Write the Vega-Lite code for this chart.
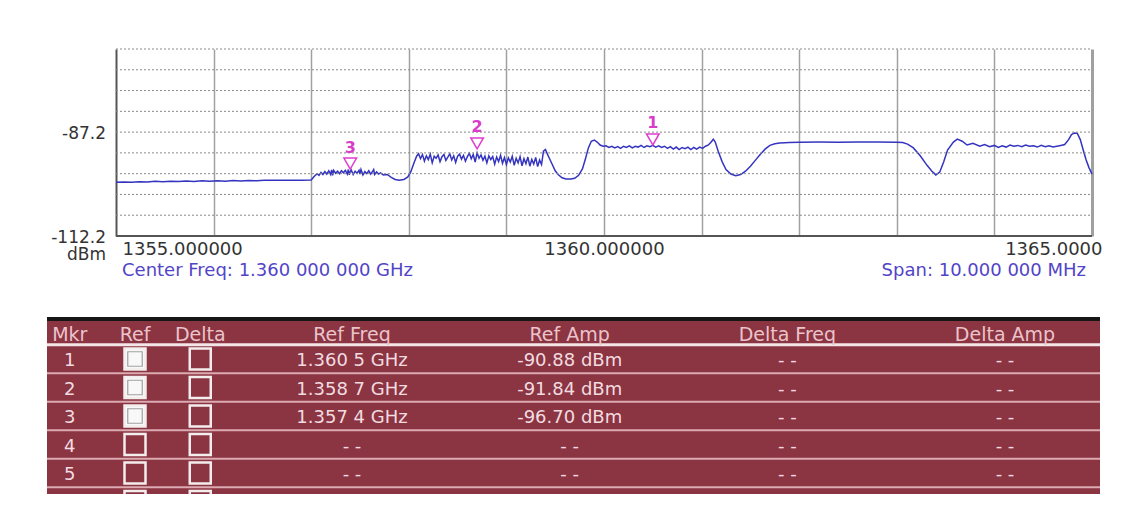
{
  "$schema": "https://vega.github.io/schema/vega-lite/v6.json",
  "background": "#ffffff",
  "padding": {"left": 45, "top": 48, "right": 0, "bottom": 0},
  "config": {"view": {"stroke": null}, "font": "DejaVu Sans"},
  "bounds": "flush",
  "spacing": 81,
  "datasets": {
    "levels": [{"level": -107.2}, {"level": -102.2}, {"level": -97.2}, {"level": -92.2}, {"level": -87.2}, {"level": -82.2}, {"level": -77.2}, {"level": -72.2}, {"level": -67.2}],
    "ylabels": [{"level": -87.2, "label": "-87.2"}, {"level": -112.2, "label": "-112.2\ndBm"}],
    "markers": [
      {"mkr": 1, "freq": 1360.5, "amp": -90.88, "refFreq": "1.360 5 GHz", "refAmp": "-90.88 dBm", "deltaFreq": "- -", "deltaAmp": "- -", "refOn": true},
      {"mkr": 2, "freq": 1358.7, "amp": -91.84, "refFreq": "1.358 7 GHz", "refAmp": "-91.84 dBm", "deltaFreq": "- -", "deltaAmp": "- -", "refOn": true},
      {"mkr": 3, "freq": 1357.4, "amp": -96.70, "refFreq": "1.357 4 GHz", "refAmp": "-96.70 dBm", "deltaFreq": "- -", "deltaAmp": "- -", "refOn": true},
      {"mkr": 4, "freq": null, "amp": null, "refFreq": "- -", "refAmp": "- -", "deltaFreq": "- -", "deltaAmp": "- -", "refOn": false},
      {"mkr": 5, "freq": null, "amp": null, "refFreq": "- -", "refAmp": "- -", "deltaFreq": "- -", "deltaAmp": "- -", "refOn": false},
      {"mkr": 6, "freq": null, "amp": null, "refFreq": "- -", "refAmp": "- -", "deltaFreq": "- -", "deltaAmp": "- -", "refOn": false}
    ],
    "cols": [
      {"key": "mkr", "title": "Mkr", "grp": "A", "idx": 0},
      {"key": "ref", "title": "Ref", "grp": "A", "idx": 1},
      {"key": "delta", "title": "Delta", "grp": "A", "idx": 2},
      {"key": "refFreq", "title": "Ref Freq", "grp": "B"},
      {"key": "refAmp", "title": "Ref Amp", "grp": "B"},
      {"key": "deltaFreq", "title": "Delta Freq", "grp": "B"},
      {"key": "deltaAmp", "title": "Delta Amp", "grp": "B"}
    ],
    "trace": [
      {"f":1355.00,"p":-99.25},{"f":1355.08,"p":-99.18},{"f":1355.16,"p":-99.28},{"f":1355.24,"p":-99.15},{"f":1355.32,"p":-99.22},{"f":1355.40,"p":-99.05},{"f":1355.48,"p":-99.15},{"f":1355.56,"p":-99.00},{"f":1355.64,"p":-99.10},{"f":1355.72,"p":-98.98},{"f":1355.80,"p":-99.08},{"f":1355.88,"p":-98.92},{"f":1355.96,"p":-99.02},{"f":1356.04,"p":-98.90},{"f":1356.12,"p":-99.00},{"f":1356.20,"p":-98.85},{"f":1356.28,"p":-98.95},{"f":1356.36,"p":-98.85},{"f":1356.44,"p":-98.92},{"f":1356.52,"p":-98.80},{"f":1356.60,"p":-98.80},{"f":1356.70,"p":-98.78},{"f":1356.80,"p":-98.78},{"f":1356.90,"p":-98.76},{"f":1357.00,"p":-98.74},
      {"f":1357.03,"p":-97.9},{"f":1357.06,"p":-97.2},{"f":1357.08,"p":-97.6},{"f":1357.10,"p":-96.9},{"f":1357.12,"p":-97.4},{"f":1357.14,"p":-96.7},{"f":1357.16,"p":-97.3},{"f":1357.18,"p":-96.5},{"f":1357.20,"p":-97.4},{"f":1357.21,"p":-96.3},{"f":1357.22,"p":-97.6},{"f":1357.23,"p":-96.4},{"f":1357.25,"p":-97.1},{"f":1357.27,"p":-96.6},{"f":1357.29,"p":-97.2},{"f":1357.31,"p":-96.5},{"f":1357.33,"p":-97.0},{"f":1357.35,"p":-96.4},{"f":1357.37,"p":-97.3},{"f":1357.38,"p":-96.2},{"f":1357.39,"p":-97.5},{"f":1357.40,"p":-96.7},{"f":1357.41,"p":-96.3},{"f":1357.43,"p":-97.4},{"f":1357.45,"p":-96.6},{"f":1357.47,"p":-97.1},{"f":1357.49,"p":-96.4},{"f":1357.50,"p":-97.3},{"f":1357.51,"p":-96.2},{"f":1357.53,"p":-97.5},{"f":1357.55,"p":-96.7},{"f":1357.57,"p":-97.2},{"f":1357.59,"p":-96.5},{"f":1357.61,"p":-97.3},{"f":1357.63,"p":-96.6},{"f":1357.64,"p":-96.2},{"f":1357.65,"p":-97.4},{"f":1357.67,"p":-96.8},{"f":1357.69,"p":-97.3},{"f":1357.71,"p":-97.0},{"f":1357.74,"p":-97.5},{"f":1357.78,"p":-97.4},
      {"f":1357.82,"p":-98.1},{"f":1357.86,"p":-98.6},{"f":1357.90,"p":-98.8},{"f":1357.95,"p":-98.6},{"f":1357.99,"p":-98.0},{"f":1358.02,"p":-96.8},{"f":1358.05,"p":-94.8},{"f":1358.08,"p":-93.0},{"f":1358.10,"p":-92.4},
      {"f":1358.12,"p":-93.6},{"f":1358.14,"p":-92.6},{"f":1358.16,"p":-94.2},{"f":1358.18,"p":-92.9},{"f":1358.20,"p":-93.8},{"f":1358.22,"p":-92.5},{"f":1358.24,"p":-94.6},{"f":1358.26,"p":-93.0},{"f":1358.28,"p":-93.5},{"f":1358.30,"p":-92.7},{"f":1358.32,"p":-94.3},{"f":1358.34,"p":-93.1},{"f":1358.36,"p":-92.6},{"f":1358.38,"p":-94.0},{"f":1358.40,"p":-93.2},{"f":1358.42,"p":-92.4},{"f":1358.44,"p":-93.9},{"f":1358.46,"p":-92.9},{"f":1358.48,"p":-94.5},{"f":1358.50,"p":-93.0},{"f":1358.52,"p":-92.5},{"f":1358.54,"p":-93.7},{"f":1358.56,"p":-92.8},{"f":1358.58,"p":-94.2},{"f":1358.60,"p":-93.1},{"f":1358.62,"p":-92.3},{"f":1358.64,"p":-93.6},{"f":1358.66,"p":-92.6},{"f":1358.68,"p":-94.4},{"f":1358.70,"p":-92.2},{"f":1358.72,"p":-93.5},{"f":1358.74,"p":-92.7},{"f":1358.76,"p":-94.0},{"f":1358.78,"p":-93.0},{"f":1358.80,"p":-94.6},{"f":1358.82,"p":-92.9},{"f":1358.84,"p":-93.8},{"f":1358.86,"p":-93.1},{"f":1358.88,"p":-94.9},{"f":1358.90,"p":-93.2},{"f":1358.92,"p":-94.3},{"f":1358.94,"p":-92.8},{"f":1358.96,"p":-94.7},{"f":1358.98,"p":-93.3},{"f":1359.00,"p":-95.0},{"f":1359.02,"p":-93.4},{"f":1359.04,"p":-94.4},{"f":1359.06,"p":-93.0},{"f":1359.08,"p":-95.2},{"f":1359.10,"p":-93.5},{"f":1359.12,"p":-94.6},{"f":1359.14,"p":-93.1},{"f":1359.16,"p":-95.3},{"f":1359.18,"p":-93.6},{"f":1359.20,"p":-94.8},{"f":1359.22,"p":-93.2},{"f":1359.24,"p":-95.4},{"f":1359.26,"p":-93.8},{"f":1359.28,"p":-94.9},{"f":1359.30,"p":-93.3},{"f":1359.32,"p":-95.5},{"f":1359.34,"p":-93.9},{"f":1359.36,"p":-95.0},{"f":1359.38,"p":-91.8},{"f":1359.40,"p":-91.4},{"f":1359.42,"p":-92.5},
      {"f":1359.44,"p":-93.5},{"f":1359.47,"p":-95.0},{"f":1359.50,"p":-96.5},{"f":1359.53,"p":-97.4},{"f":1359.57,"p":-98.2},{"f":1359.61,"p":-98.5},{"f":1359.66,"p":-98.5},{"f":1359.70,"p":-98.3},{"f":1359.74,"p":-97.6},{"f":1359.78,"p":-96.0},{"f":1359.81,"p":-93.6},{"f":1359.84,"p":-91.0},{"f":1359.87,"p":-89.4},{"f":1359.90,"p":-89.1},{"f":1359.93,"p":-89.6},{"f":1359.96,"p":-90.3},{"f":1359.99,"p":-90.6},
      {"f":1360.02,"p":-90.5},{"f":1360.05,"p":-90.9},{"f":1360.08,"p":-90.6},{"f":1360.11,"p":-91.0},{"f":1360.14,"p":-90.7},{"f":1360.17,"p":-91.1},{"f":1360.20,"p":-90.6},{"f":1360.23,"p":-90.9},{"f":1360.26,"p":-90.5},{"f":1360.29,"p":-91.0},{"f":1360.32,"p":-90.6},{"f":1360.35,"p":-90.8},{"f":1360.38,"p":-90.4},{"f":1360.41,"p":-90.9},{"f":1360.44,"p":-90.5},{"f":1360.47,"p":-90.7},{"f":1360.50,"p":-90.4},{"f":1360.53,"p":-90.8},{"f":1360.56,"p":-90.5},{"f":1360.59,"p":-90.9},{"f":1360.62,"p":-90.6},{"f":1360.65,"p":-91.1},{"f":1360.68,"p":-90.7},{"f":1360.71,"p":-91.3},{"f":1360.74,"p":-90.8},{"f":1360.77,"p":-91.4},{"f":1360.80,"p":-90.9},{"f":1360.83,"p":-91.2},{"f":1360.86,"p":-90.8},{"f":1360.89,"p":-91.4},{"f":1360.92,"p":-90.9},{"f":1360.95,"p":-91.3},{"f":1360.98,"p":-90.8},{"f":1361.01,"p":-91.1},{"f":1361.04,"p":-90.6},{"f":1361.07,"p":-90.3},
      {"f":1361.10,"p":-89.5},{"f":1361.12,"p":-88.9},{"f":1361.14,"p":-89.6},{"f":1361.17,"p":-91.8},{"f":1361.21,"p":-94.3},{"f":1361.25,"p":-96.2},{"f":1361.30,"p":-97.3},{"f":1361.35,"p":-97.7},{"f":1361.40,"p":-97.4},{"f":1361.45,"p":-96.6},{"f":1361.50,"p":-95.4},{"f":1361.55,"p":-94.0},{"f":1361.60,"p":-92.6},{"f":1361.65,"p":-91.3},{"f":1361.70,"p":-90.4},{"f":1361.75,"p":-90.0},{"f":1361.80,"p":-89.8},{"f":1361.90,"p":-89.7},
      {"f":1362.00,"p":-89.65},{"f":1362.20,"p":-89.6},{"f":1362.40,"p":-89.65},{"f":1362.60,"p":-89.55},{"f":1362.80,"p":-89.6},{"f":1363.00,"p":-89.65},{"f":1363.06,"p":-89.7},
      {"f":1363.11,"p":-90.1},{"f":1363.17,"p":-91.0},{"f":1363.24,"p":-92.9},{"f":1363.31,"p":-95.2},{"f":1363.36,"p":-96.6},{"f":1363.40,"p":-97.5},{"f":1363.44,"p":-96.8},{"f":1363.48,"p":-94.4},{"f":1363.52,"p":-91.5},{"f":1363.58,"p":-89.6},{"f":1363.62,"p":-88.9},{"f":1363.67,"p":-89.4},{"f":1363.72,"p":-90.3},{"f":1363.78,"p":-89.9},{"f":1363.85,"p":-90.6},
      {"f":1363.90,"p":-90.2},{"f":1363.95,"p":-90.7},{"f":1364.00,"p":-90.4},{"f":1364.04,"p":-90.9},{"f":1364.08,"p":-90.5},{"f":1364.12,"p":-90.8},{"f":1364.16,"p":-90.3},{"f":1364.20,"p":-90.6},{"f":1364.24,"p":-90.4},{"f":1364.28,"p":-90.7},{"f":1364.32,"p":-90.3},{"f":1364.36,"p":-90.6},{"f":1364.40,"p":-90.5},{"f":1364.44,"p":-90.8},{"f":1364.48,"p":-90.4},{"f":1364.52,"p":-90.7},{"f":1364.56,"p":-90.5},{"f":1364.60,"p":-90.8},{"f":1364.64,"p":-90.6},{"f":1364.68,"p":-90.4},{"f":1364.72,"p":-90.2},
      {"f":1364.76,"p":-89.0},{"f":1364.79,"p":-87.8},{"f":1364.82,"p":-87.4},{"f":1364.85,"p":-87.5},{"f":1364.88,"p":-89.0},{"f":1364.91,"p":-91.5},{"f":1364.94,"p":-93.9},{"f":1364.97,"p":-95.8},{"f":1365.00,"p":-97.3}
    ]
  },
  "vconcat": [
    {
      "width": 1053,
      "height": 187,
      "layer": [
        {
          "data": {"name": "trace"},
          "mark": {"type": "line", "color": "#3434c0", "strokeWidth": 1.5},
          "encoding": {
            "x": {
              "field": "f", "type": "quantitative", "title": null,
              "scale": {"domain": [1354.293, 1365.082], "nice": false, "zero": false},
              "axis": {
                "values": [1355, 1356, 1357, 1358, 1359, 1360, 1361, 1362, 1363, 1364, 1365],
                "grid": true,
                "gridColor": {"condition": {"test": "datum.value == 1355", "value": "#555555"}, "value": "#a0a0a0"},
                "gridWidth": {"condition": [{"test": "datum.value == 1355", "value": 2}, {"test": "datum.value == 1365", "value": 3}], "value": 1.5},
                "domain": false,
                "ticks": false,
                "tickSize": 0,
                "labelExpr": "datum.value == 1355 ? '1355.000000' : datum.value == 1360 ? '1360.000000' : datum.value == 1365 ? '1365.0000' : ''",
                "labelAlign": {"condition": [{"test": "datum.value == 1355", "value": "left"}, {"test": "datum.value == 1365", "value": "right"}], "value": "center"},
                "labelOffset": {"condition": [{"test": "datum.value == 1355", "value": 6}, {"test": "datum.value == 1365", "value": 10}], "value": 0},
                "labelFont": "DejaVu Sans",
                "labelFontSize": 18,
                "labelColor": "#333333",
                "labelPadding": 4,
                "labelOverlap": false,
                "labelBound": false,
                "labelFlush": false
              }
            },
            "y": {"field": "p", "type": "quantitative", "title": null, "scale": {"domain": [-112.2, -67.2], "nice": false, "zero": false}, "axis": null}
          }
        },
        {
          "data": {"name": "levels"},
          "mark": {"type": "rule", "color": "#8a8a8a", "strokeWidth": 1, "strokeDash": [2, 2]},
          "encoding": {
            "y": {"field": "level", "type": "quantitative", "axis": null},
            "x": {"datum": 1355, "type": "quantitative", "title": null},
            "x2": {"datum": 1365}
          }
        },
        {
          "data": {"values": [{}]},
          "mark": {"type": "rule", "color": "#555555", "strokeWidth": 2},
          "encoding": {
            "y": {"datum": -112.2, "type": "quantitative", "axis": null},
            "x": {"datum": 1355, "type": "quantitative", "title": null},
            "x2": {"datum": 1365}
          }
        },
        {
          "data": {"name": "markers"},
          "transform": [{"filter": "isValid(datum.freq)"}],
          "mark": {"type": "point", "shape": "triangle-down", "size": 160, "filled": false, "stroke": "#e03cd0", "strokeWidth": 1.5, "opacity": 1, "yOffset": -8},
          "encoding": {
            "x": {"field": "freq", "type": "quantitative", "title": null},
            "y": {"field": "amp", "type": "quantitative", "axis": null}
          }
        },
        {
          "data": {"name": "markers"},
          "transform": [{"filter": "isValid(datum.freq)"}],
          "mark": {"type": "text", "fontSize": 16, "fontWeight": "bold", "color": "#d93cc9", "dy": -24},
          "encoding": {
            "x": {"field": "freq", "type": "quantitative", "title": null},
            "y": {"field": "amp", "type": "quantitative", "axis": null},
            "text": {"field": "mkr", "type": "nominal"}
          }
        },
        {
          "data": {"name": "ylabels"},
          "mark": {"type": "text", "align": "right", "baseline": "top", "dx": -10, "dy": -6, "fontSize": 17, "color": "#333333", "lineBreak": "\n", "lineHeight": 17},
          "encoding": {
            "x": {"datum": 1355, "type": "quantitative", "title": null},
            "y": {"field": "level", "type": "quantitative", "axis": null},
            "text": {"field": "label", "type": "nominal"}
          }
        },
        {
          "data": {"values": [{"label": "Center Freq: 1.360 000 000 GHz"}]},
          "mark": {"type": "text", "align": "left", "baseline": "middle", "dx": 6, "dy": 35, "fontSize": 18, "color": "#5244c8"},
          "encoding": {
            "x": {"datum": 1355, "type": "quantitative", "title": null},
            "y": {"datum": -112.2, "type": "quantitative", "axis": null},
            "text": {"field": "label", "type": "nominal"}
          }
        },
        {
          "data": {"values": [{"label": "Span: 10.000 000 MHz"}]},
          "mark": {"type": "text", "align": "right", "baseline": "middle", "dx": -6, "dy": 35, "fontSize": 18, "color": "#5244c8"},
          "encoding": {
            "x": {"datum": 1365, "type": "quantitative", "title": null},
            "y": {"datum": -112.2, "type": "quantitative", "axis": null},
            "text": {"field": "label", "type": "nominal"}
          }
        }
      ]
    },
    {
      "width": 1053,
      "height": 177,
      "view": {"fill": "#8b3442", "stroke": null},
      "data": {"name": "markers"},
      "resolve": {"scale": {"x": "independent"}},
      "layer": [
        {
          "mark": {"type": "rule", "color": "#dcaab2", "strokeWidth": 2, "yOffset": 14.25, "clip": true},
          "encoding": {
            "y": {"field": "mkr", "type": "quantitative", "scale": {"domain": [-0.4737, 5.7368], "reverse": true, "nice": false, "zero": false}, "axis": null}
          }
        },
        {
          "data": {"values": [{}]},
          "mark": {"type": "rule", "color": "#f4e6e8", "strokeWidth": 3},
          "encoding": {"y": {"datum": 0.5, "type": "quantitative", "axis": null}}
        },
        {
          "data": {"values": [{}]},
          "mark": {"type": "rule", "color": "#161616", "strokeWidth": 4},
          "encoding": {"y": {"datum": -0.4, "type": "quantitative", "axis": null}}
        },
        {
          "data": {"name": "cols"},
          "transform": [{"filter": "datum.grp == 'A'"}],
          "mark": {"type": "text", "fontSize": 19, "color": "#ebc3ca", "baseline": "middle", "dy": 4},
          "encoding": {
            "x": {"field": "idx", "type": "quantitative", "scale": {"domain": [-0.3487, 15.789], "nice": false, "zero": false}, "axis": null},
            "y": {"datum": 0, "type": "quantitative", "axis": null},
            "text": {"field": "title", "type": "nominal"}
          }
        },
        {
          "data": {"name": "cols"},
          "transform": [{"filter": "datum.grp == 'B'"}],
          "mark": {"type": "text", "fontSize": 19, "color": "#ebc3ca", "baseline": "middle", "dy": 4},
          "encoding": {
            "x": {"field": "key", "type": "nominal", "scale": {"type": "point", "domain": ["refFreq", "refAmp", "deltaFreq", "deltaAmp"], "padding": 0.9188, "align": 0.7625, "round": false}, "axis": null},
            "y": {"datum": 0, "type": "quantitative", "axis": null},
            "text": {"field": "title", "type": "nominal"}
          }
        },
        {
          "transform": [{"filter": "datum.mkr <= 5"}],
          "mark": {"type": "text", "fontSize": 18, "color": "#f2dce0", "baseline": "middle", "dy": 2, "clip": true},
          "encoding": {
            "x": {"datum": 0, "type": "quantitative", "scale": {"domain": [-0.3487, 15.789], "nice": false, "zero": false}, "axis": null},
            "y": {"field": "mkr", "type": "quantitative", "axis": null},
            "text": {"field": "mkr", "type": "nominal"}
          }
        },
        {
          "mark": {"type": "point", "shape": "square", "size": 441, "filled": true, "stroke": "#f3eded", "strokeWidth": 2.5, "opacity": 1, "clip": true},
          "encoding": {
            "x": {"datum": 1, "type": "quantitative", "scale": {"domain": [-0.3487, 15.789], "nice": false, "zero": false}, "axis": null},
            "y": {"field": "mkr", "type": "quantitative", "axis": null},
            "fill": {"condition": {"test": "datum.refOn", "value": "#f8f8f8"}, "value": "#8b3442"}
          }
        },
        {
          "transform": [{"filter": "datum.refOn"}],
          "mark": {"type": "point", "shape": "square", "size": 210, "filled": false, "stroke": "#a0a0a0", "strokeWidth": 1.2, "opacity": 1, "clip": true},
          "encoding": {
            "x": {"datum": 1, "type": "quantitative", "scale": {"domain": [-0.3487, 15.789], "nice": false, "zero": false}, "axis": null},
            "y": {"field": "mkr", "type": "quantitative", "axis": null}
          }
        },
        {
          "mark": {"type": "point", "shape": "square", "size": 441, "filled": false, "stroke": "#f3eded", "strokeWidth": 2.5, "opacity": 1, "clip": true},
          "encoding": {
            "x": {"datum": 2, "type": "quantitative", "scale": {"domain": [-0.3487, 15.789], "nice": false, "zero": false}, "axis": null},
            "y": {"field": "mkr", "type": "quantitative", "axis": null}
          }
        },
        {
          "transform": [{"filter": "datum.mkr <= 5"}, {"fold": ["refFreq", "refAmp", "deltaFreq", "deltaAmp"], "as": ["key", "value"]}],
          "mark": {"type": "text", "fontSize": 18, "color": "#f2dce0", "baseline": "middle", "dy": 2, "clip": true},
          "encoding": {
            "x": {"field": "key", "type": "nominal", "scale": {"type": "point", "domain": ["refFreq", "refAmp", "deltaFreq", "deltaAmp"], "padding": 0.9188, "align": 0.7625, "round": false}, "axis": null},
            "y": {"field": "mkr", "type": "quantitative", "axis": null},
            "text": {"field": "value", "type": "nominal"}
          }
        }
      ]
    }
  ]
}
